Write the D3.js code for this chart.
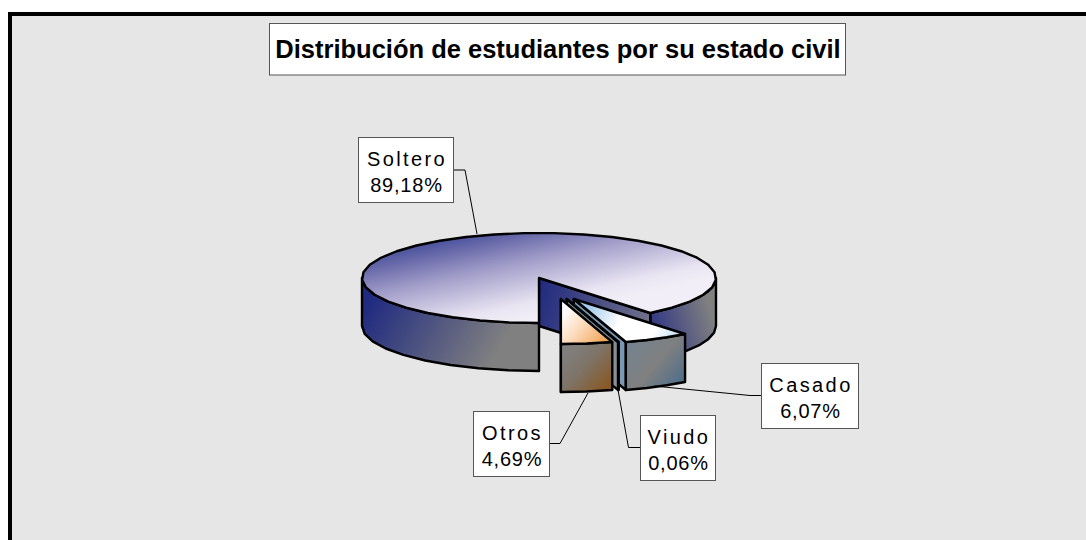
<!DOCTYPE html>
<html>
<head>
<meta charset="utf-8">
<script src="https://cdn.jsdelivr.net/npm/d3@7"></script>
<style>
  body { margin: 0; background: #fff; }
  text { font-family: "Liberation Sans", Arial, sans-serif; fill: #000; }
</style>
</head>
<body>
<script>
// Datos
const titulo = "Distribución de estudiantes por su estado civil";
const categorias = ["Soltero", "Casado", "Viudo", "Otros"];
const porcentajes = [89.18, 6.07, 0.06, 4.69];
const explotada = [false, true, true, true];

// Medidas
const ancho = 1086;
const alto = 540;
const centroX = 539;
const centroY = 278;
const radioX = 177;
const radioY = 45;
const grosor = 48;
const pasoArco = 10 * Math.PI / 180; // los bordes del original son poligonales

// Separación de los sectores sueltos
const sueltoBaseX = 16;
const sueltoX = 40;
const sueltoY = 21;

// Cajas de las etiquetas y sus líneas guía
const cajas = [
    { x: 358.5, y: 137.5, w: 95, h: 65, guia: [[453.5, 170], [465, 170], [477, 234]] },
    { x: 761.5, y: 363.5, w: 97, h: 65, guia: [[761.5, 395.5], [750, 395.5], [654, 386]] },
    { x: 640.5, y: 415.5, w: 75, h: 65, guia: [[640.5, 447.5], [628.5, 447.5], [618, 390]] },
    { x: 473.5, y: 411.5, w: 76, h: 65, guia: [[549.5, 443.5], [560, 443.5], [588, 393]] }
];

const svg = d3.select("body").append("svg")
    .attr("width", ancho)
    .attr("height", alto)
    .style("display", "block");

// Gradientes
const defs = svg.append("defs");
function gradiente(id, x1, y1, x2, y2, paradas) {
    const g = defs.append("linearGradient")
        .attr("id", id)
        .attr("gradientUnits", "userSpaceOnUse")
        .attr("x1", x1).attr("y1", y1)
        .attr("x2", x2).attr("y2", y2);
    for (const p of paradas) {
        g.append("stop").attr("offset", p[0]).attr("stop-color", p[1]);
    }
}
gradiente("solteroTapa", 450, 231, 472, 331, [[0, "#3b4596"], [0.21, "#6b6cab"], [0.44, "#a09cc8"], [0.85, "#e8e4f2"], [1, "#f1eef7"]]);
gradiente("solteroLadoIzq", 372, 295, 490, 365, [[0, "#1f2a80"], [1, "#808080"]]);
gradiente("solteroLadoDer", 645, 335, 712, 315, [[0, "#262c84"], [1, "#808080"]]);
gradiente("solteroPared", 535, 295, 655, 335, [[0, "#20297f"], [1, "#77778a"]]);
gradiente("casadoTapa", 590, 300, 682, 345, [[0, "#9fc8ea"], [0.35, "#ffffff"], [0.7, "#ffffff"], [1, "#b4d8f0"]]);
gradiente("casadoLado", 630, 345, 685, 390, [[0, "#74838f"], [0.45, "#808080"], [1, "#456a8c"]]);
gradiente("casadoPared", 575, 300, 625, 390, [[0, "#6f92ad"], [1, "#7d9ab5"]]);
gradiente("viudoPared", 565, 298, 618, 390, [[0, "#72858f"], [1, "#8f9196"]]);
gradiente("otrosTapa", 565, 310, 605, 345, [[0, "#ffffff"], [0.45, "#fbd9b8"], [1, "#f0a04e"]]);
gradiente("otrosLado", 565, 350, 612, 392, [[0, "#808080"], [0.4, "#7e7468"], [1, "#8a5316"]]);

// Fondo y marco
svg.append("rect").attr("x", 8).attr("y", 12).attr("width", ancho - 8).attr("height", alto - 12).attr("fill", "#000");
svg.append("rect").attr("x", 12).attr("y", 16).attr("width", ancho - 12).attr("height", alto - 16).attr("fill", "#e6e6e6");

// Sectores: empieza abajo (180°) y gira en sentido horario
const pie = d3.pie().sort(null).startAngle(Math.PI).endAngle(3 * Math.PI);
const sectores = pie(porcentajes);

// Proyección de un ángulo sobre la elipse
const puntoX = a => radioX * Math.sin(a);
const puntoY = a => -radioY * Math.cos(a);
const linea = d3.line();

function arco(a0, a1, dx, dy) {
    const n = Math.max(1, Math.ceil(Math.abs(a1 - a0) / pasoArco));
    return d3.range(n + 1).map(i => {
        const a = a0 + (a1 - a0) * i / n;
        return [dx + puntoX(a), dy + puntoY(a)];
    });
}

function poligono(puntos, relleno) {
    svg.append("path")
        .attr("d", linea(puntos) + "Z")
        .attr("fill", relleno)
        .attr("stroke", "#000")
        .attr("stroke-width", 2.4)
        .attr("stroke-linejoin", "round");
}

// Cara lateral exterior entre dos ángulos
function lado(a0, a1, dx, dy, relleno) {
    const arriba = arco(a0, a1, dx, dy);
    const abajo = arriba.map(p => [p[0], p[1] + grosor]).reverse();
    poligono(arriba.concat(abajo), relleno);
}

// Pared de corte desde el centro hasta el borde
function pared(a, dx, dy, relleno) {
    poligono([
        [dx, dy],
        [dx + puntoX(a), dy + puntoY(a)],
        [dx + puntoX(a), dy + puntoY(a) + grosor],
        [dx, dy + grosor]
    ], relleno);
}

function tapa(a0, a1, dx, dy, relleno) {
    poligono([[dx, dy]].concat(arco(a0, a1, dx, dy)), relleno);
}

const grupoClaves = ["soltero", "casado", "viudo", "otros"];

sectores.forEach((s, i) => {
    if (!explotada[i]) {
        // Sector grande: fin en 141° (+360)
        const fin = s.endAngle - 2 * Math.PI;
        lado(Math.PI / 2, fin, centroX, centroY, "url(#solteroLadoDer)");
        pared(fin, centroX, centroY, "url(#solteroPared)");
        lado(Math.PI, 1.5 * Math.PI, centroX, centroY, "url(#solteroLadoIzq)");
        tapa(s.startAngle, s.endAngle, centroX, centroY, "url(#solteroTapa)");
    }
});

// Los sectores sueltos van de derecha a izquierda
sectores.forEach((s, i) => {
    if (!explotada[i]) return;
    const clave = grupoClaves[i];
    const medio = (s.startAngle + s.endAngle) / 2;
    const dx = centroX + sueltoBaseX + sueltoX * Math.sin(medio);
    const dy = centroY + sueltoY;
    pared(s.endAngle, dx, dy, clave === "otros" ? "url(#otrosLado)" : "url(#" + clave + "Pared)");
    lado(s.startAngle, s.endAngle, dx, dy, clave === "viudo" ? "url(#viudoPared)" : "url(#" + clave + "Lado)");
    tapa(s.startAngle, s.endAngle, dx, dy, clave === "viudo" ? "url(#viudoPared)" : "url(#" + clave + "Tapa)");
});

// Título
svg.append("rect")
    .attr("x", 269.5).attr("y", 23.5)
    .attr("width", 576).attr("height", 51.5)
    .attr("fill", "#fff").attr("stroke", "#555").attr("stroke-width", 1);
svg.append("text")
    .attr("x", 558).attr("y", 58)
    .attr("text-anchor", "middle")
    .attr("font-size", 25.5)
    .attr("font-weight", "bold")
    .text(titulo);

// Etiquetas
const coma = d3.formatLocale({ decimal: ",", thousands: ".", grouping: [3], currency: ["", ""] }).format(".2f");

categorias.forEach((c, i) => {
    const caja = cajas[i];
    svg.append("path")
        .attr("d", linea(caja.guia))
        .attr("fill", "none")
        .attr("stroke", "#000")
        .attr("stroke-width", 1);
    svg.append("rect")
        .attr("x", caja.x).attr("y", caja.y)
        .attr("width", caja.w).attr("height", caja.h)
        .attr("fill", "#fff").attr("stroke", "#555").attr("stroke-width", 1);
    const t = svg.append("text")
        .attr("text-anchor", "middle")
        .attr("font-size", 20);
    t.append("tspan")
        .attr("x", caja.x + caja.w / 2 + 1).attr("y", caja.y + 28)
        .attr("letter-spacing", 2.4)
        .text(c);
    t.append("tspan")
        .attr("x", caja.x + caja.w / 2 + 0.5).attr("y", caja.y + 54)
        .attr("letter-spacing", 0.8)
        .text(coma(porcentajes[i]) + "%");
});
</script>
</body>
</html>
